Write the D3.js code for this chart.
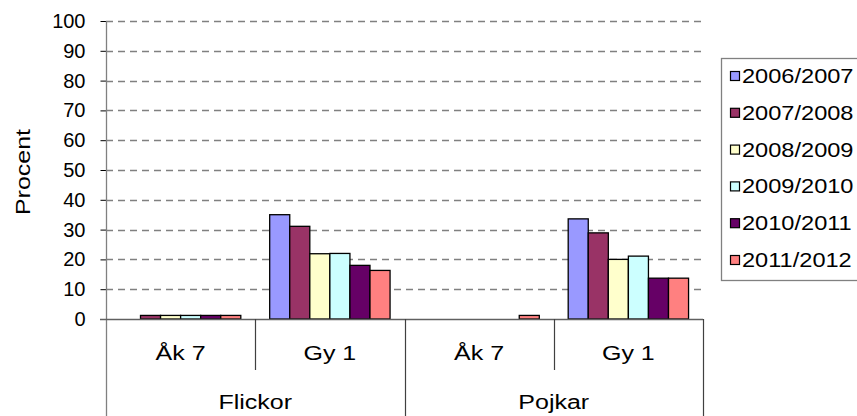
<!DOCTYPE html>
<html>
<head>
<meta charset="utf-8">
<script src="https://cdn.jsdelivr.net/npm/d3@7"></script>
<style>
  body { margin: 0; background: #fff; }
  svg { display: block; font-family: "Liberation Sans", Arial, sans-serif; }
</style>
</head>
<body>
<div id="chart"></div>
<script>
// data
const groups = ["Flickor", "Pojkar"];
const levels = ["Åk 7", "Gy 1"];
const years = ["2006/2007", "2007/2008", "2008/2009", "2009/2010", "2010/2011", "2011/2012"];
const colors = ["#9999FF", "#993366", "#FFFFCC", "#CCFFFF", "#660066", "#FF8080"];
// one row per year: Flickor Åk 7, Flickor Gy 1, Pojkar Åk 7, Pojkar Gy 1
const values = [
    [0,   35.0, 0,   33.6],
    [1.2, 31.1, 0,   28.9],
    [1.2, 21.9, 0,   20.0],
    [1.2, 22.0, 0,   21.1],
    [1.2, 18.0, 0,   13.7],
    [1.2, 16.3, 1.2, 13.7]
];
const yTicks = [0, 10, 20, 30, 40, 50, 60, 70, 80, 90, 100];

const width = 857, height = 416;
const plotLeft = 106, plotRight = 703, plotTop = 21, plotBottom = 319;
const stretch = 1.25; // text in the original is drawn a bit wide

const svg = d3.select("#chart").append("svg")
    .attr("width", width)
    .attr("height", height);

svg.append("rect").attr("width", width).attr("height", height).attr("fill", "#fff");

const cats = [];
groups.forEach(g => levels.forEach(l => cats.push(g + "|" + l)));

const xScale = d3.scaleBand().domain(cats).range([plotLeft, plotRight]);
const xInner = d3.scaleBand().domain(years).range([0, xScale.bandwidth()]).paddingOuter(0.72);
const yScale = d3.scaleLinear().domain([0, 100]).range([plotBottom, plotTop]);

// gridlines
svg.append("g")
    .selectAll("line")
    .data(yTicks.filter(d => d > 0))
    .enter().append("line")
    .attr("x1", plotLeft)
    .attr("x2", plotRight)
    .attr("y1", d => Math.round(yScale(d)) + 0.5)
    .attr("y2", d => Math.round(yScale(d)) + 0.5)
    .style("stroke", "#808080")
    .style("stroke-width", 1.3)
    .style("stroke-dasharray", "7,5");

// bars
years.forEach((yr, i) => {
    svg.append("g")
        .selectAll("rect")
        .data(values[i].map((v, j) => ({ cat: cats[j], v: v })).filter(d => d.v > 0))
        .enter().append("rect")
        .attr("x", d => xScale(d.cat) + xInner(yr))
        .attr("y", d => yScale(d.v))
        .attr("width", xInner.bandwidth())
        .attr("height", d => plotBottom - yScale(d.v))
        .attr("fill", colors[i])
        .style("stroke", "#000")
        .style("stroke-width", 1.3);
});

// y axis
const yAxis = svg.append("g")
    .attr("transform", `translate(${plotLeft + 0.5}, 0)`)
    .call(d3.axisLeft(yScale).tickValues(yTicks).tickSize(6).tickPadding(15));
yAxis.select(".domain").remove();
yAxis.selectAll(".tick line").style("stroke", "#000");
yAxis.selectAll(".tick text")
    .style("font-size", "20px")
    .style("font-family", "Liberation Sans, Arial, sans-serif")
    .attr("fill", "#000");

svg.append("line")
    .attr("x1", plotLeft + 0.5).attr("x2", plotLeft + 0.5)
    .attr("y1", plotTop).attr("y2", height)
    .style("stroke", "#808080").style("stroke-width", 1.3);

// x axis line
svg.append("line")
    .attr("x1", plotLeft - 6).attr("x2", plotRight)
    .attr("y1", plotBottom + 0.5).attr("y2", plotBottom + 0.5)
    .style("stroke", "#606060").style("stroke-width", 1.3);

// category dividers
const inner = [xScale(cats[1]), xScale(cats[3])];
const outer = [xScale(cats[2]), plotRight];
svg.selectAll(".div-inner")
    .data(inner)
    .enter().append("line")
    .attr("x1", d => Math.round(d) + 0.5).attr("x2", d => Math.round(d) + 0.5)
    .attr("y1", plotBottom).attr("y2", 370)
    .style("stroke", "#404040").style("stroke-width", 1.2);
svg.selectAll(".div-outer")
    .data(outer)
    .enter().append("line")
    .attr("x1", d => Math.round(d) + 0.5).attr("x2", d => Math.round(d) + 0.5)
    .attr("y1", plotBottom).attr("y2", height)
    .style("stroke", "#404040").style("stroke-width", 1.2);

// category labels
svg.selectAll(".lvl")
    .data(cats)
    .enter().append("text")
    .attr("transform", d => `translate(${xScale(d) + xScale.bandwidth() / 2}, 360) scale(${stretch}, 1)`)
    .style("text-anchor", "middle")
    .style("font-size", "20px")
    .text(d => d.split("|")[1]);

svg.selectAll(".grp")
    .data(groups)
    .enter().append("text")
    .attr("transform", d => `translate(${xScale(d + "|" + levels[0]) + xScale.bandwidth()}, 409) scale(${stretch}, 1)`)
    .style("text-anchor", "middle")
    .style("font-size", "20px")
    .text(d => d);

// y label
svg.append("text")
    .attr("transform", `translate(30, 172) rotate(-90) scale(${stretch}, 1)`)
    .style("text-anchor", "middle")
    .style("font-size", "20px")
    .text("Procent");

// legend
svg.append("rect")
    .attr("x", 721.5).attr("y", 58.5)
    .attr("width", 150).attr("height", 222)
    .attr("fill", "#fff")
    .style("stroke", "#808080").style("stroke-width", 1.3);

years.forEach((yr, i) => {
    const ly = 76 + i * 36.8;
    svg.append("rect")
        .attr("x", 730.5)
        .attr("y", ly - 4.5)
        .attr("width", 9)
        .attr("height", 9)
        .style("fill", colors[i])
        .style("stroke", "#000")
        .style("stroke-width", 1.2);
    svg.append("text")
        .attr("transform", `translate(742, ${ly}) scale(1.18, 1)`)
        .attr("dy", "0.35em")
        .style("font-size", "20px")
        .text(yr);
});
</script>
</body>
</html>
